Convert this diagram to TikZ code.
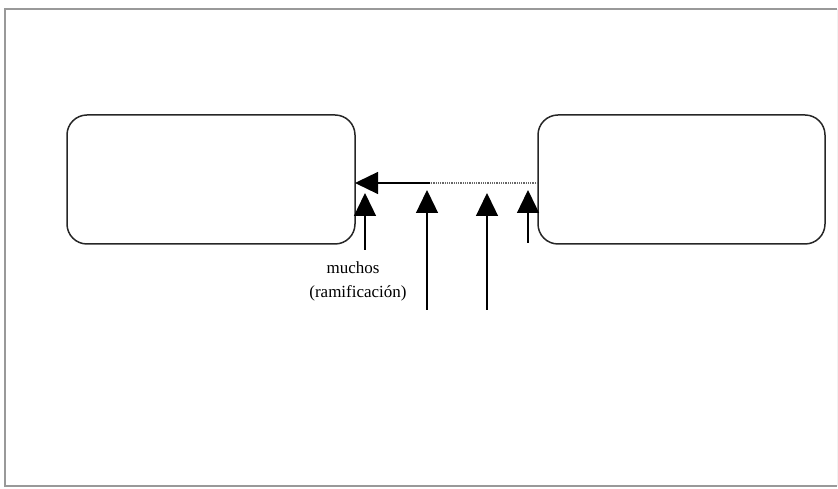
\documentclass[tikz,border=0pt]{standalone}
\usepackage{fontspec}
\setmainfont{Liberation Serif}
\usetikzlibrary{arrows.meta}
\begin{document}
\begin{tikzpicture}[x=1pt,y=1pt,
  ent/.style={draw=black!85,line width=1.5pt,rounded corners=20pt},
  arr/.style={line width=1.3pt,-{Triangle[length=23pt,width=22pt]}},
  lbl/.style={font=\fontsize{17}{19}\selectfont,inner sep=0pt}]
\useasboundingbox (0,0) rectangle (838,489);
\draw[black!40,line width=1.2pt] (837,480) -- (5,480) -- (5,3) -- (837,3);
\draw[black!5,line width=0.6pt] (837,480) -- (837,3);
% boxes
\draw[ent] (67,374) rectangle (355,245);
\node[coordinate] (A) at (355,306) {};
\draw[ent] (538,374) rectangle (825,245);
\node[coordinate] (B) at (538,306) {};
% horizontal connector: dotted part then solid part with arrow
\coordinate (M) at (430,306);
\draw[line width=1.6pt,dash pattern=on 1pt off 0.8pt,black!60] (B) -- (M);
\draw[arr] (M) -- (A);
% vertical arrows
\coordinate (s1) at (365,239); \coordinate (t1) at (365,296);
\coordinate (s2) at (427,179); \coordinate (t2) at (427,299);
\coordinate (s3) at (487,179); \coordinate (t3) at (487,296);
\coordinate (s4) at (528,246); \coordinate (t4) at (528,299);
\draw[arr] (s1) -- (t1);
\draw[arr] (s2) -- (t2);
\draw[arr] (s3) -- (t3);
\draw[arr] (s4) -- (t4);
\node[lbl] (l1) at (353,221) {muchos};
\node[lbl] (l2) at (358,196) {(ramificación)};
\end{tikzpicture}
\end{document}
